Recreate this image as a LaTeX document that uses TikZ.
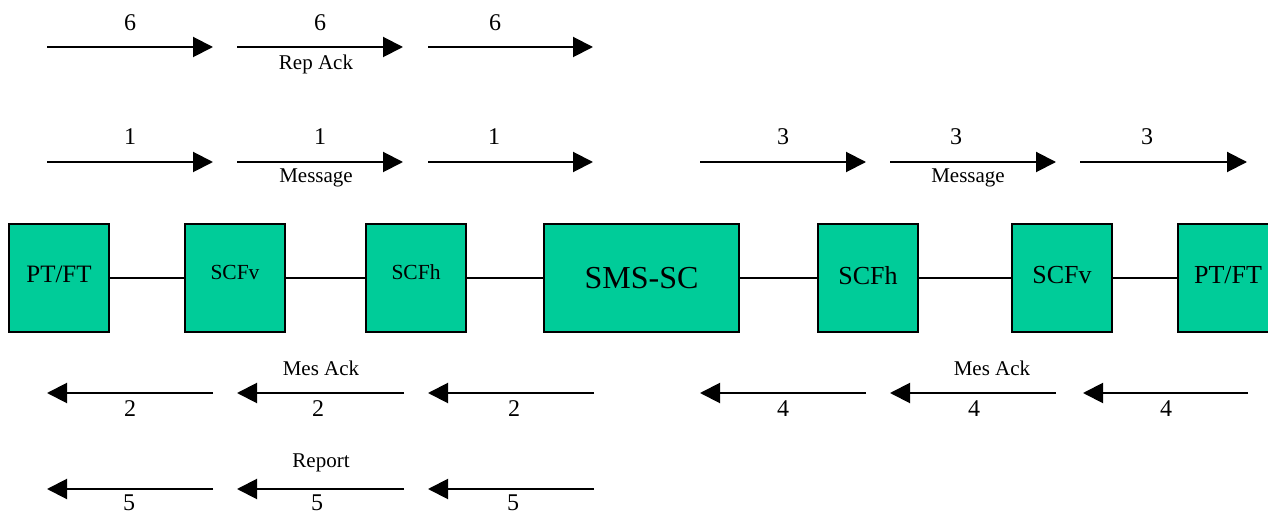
\documentclass[tikz,border=0pt]{standalone}
\usepackage{fontspec}
\setmainfont{Liberation Serif}
\usetikzlibrary{arrows.meta}
\definecolor{boxgreen}{HTML}{00CC99}
\tikzset{
  unit/.style={draw, line width=0.8pt, fill=boxgreen, minimum width=50pt,
    minimum height=54pt, inner sep=0pt},
  flow/.style={line width=1pt, -{Triangle[length=10pt,width=10pt]}},
  num/.style={font=\fontsize{12}{14}\selectfont},
  tag/.style={font=\fontsize{10.5}{12}\selectfont},
}

\begin{document}
\begin{tikzpicture}[x=0.5pt, y=-0.5pt]
\useasboundingbox (0,0) rectangle (1268,513);
% chain of units
\node[unit, font=\fontsize{12.5}{14}\selectfont, text depth=4pt] (pta) at (59,278) {PT/FT};
\node[unit, font=\fontsize{10.75}{12}\selectfont, text depth=6pt] (scfva) at (235,278) {SCFv};
\node[unit, font=\fontsize{10.75}{12}\selectfont, text depth=6pt] (scfha) at (416,278) {SCFh};
\node[unit, font=\fontsize{16}{18}\selectfont, minimum width=97.5pt] (smssc) at (641.5,278) {SMS-SC};
\node[unit, font=\fontsize{13}{15}\selectfont, text depth=3pt] (scfhb) at (868,278) {SCFh};
\node[unit, font=\fontsize{13}{15}\selectfont, text depth=3pt] (scfvb) at (1062,278) {SCFv};
\node[unit, font=\fontsize{13}{15}\selectfont, text depth=3pt] (ptb) at (1228,278) {PT/FT};
\draw[line width=1pt] (pta) -- (scfva) -- (scfha) -- (smssc) -- (scfhb) -- (scfvb) -- (ptb);

% 6: report ack
\foreach \a/\b/\x [count=\i] in {47/213/130, 237/403/320, 428/593/495} {
  \draw[flow] (\a,47) -- (\b,47);
  \node[num] (six\i) at (\x,23) {6};
}
\node[tag] (repack) at (316,64) {Rep Ack};

% 1: message to SMS-SC
\foreach \a/\b/\x [count=\i] in {47/213/130, 237/403/320, 428/593/494} {
  \draw[flow] (\a,162) -- (\b,162);
  \node[num] (one\i) at (\x,137) {1};
}
\node[tag] (msga) at (316,178) {Message};

% 3: message from SMS-SC
\foreach \a/\b/\x [count=\i] in {700/866/783, 890/1056/956, 1080/1247/1147} {
  \draw[flow] (\a,162) -- (\b,162);
  \node[num] (three\i) at (\x,137) {3};
}
\node[tag] (msgb) at (968,178) {Message};

% 2: message ack
\foreach \a/\b/\x [count=\i] in {47/213/130, 237/404/318, 428/594/514} {
  \draw[flow] (\b,393) -- (\a,393);
  \node[num] (two\i) at (\x,409) {2};
}
\node[tag] (mesacka) at (321,368) {Mes Ack};

% 4: message ack
\foreach \a/\b/\x [count=\i] in {700/866/783, 890/1056/974, 1083/1248/1166} {
  \draw[flow] (\b,393) -- (\a,393);
  \node[num] (four\i) at (\x,409) {4};
}
\node[tag] (mesackb) at (992,368) {Mes Ack};

% 5: report
\foreach \a/\b/\x [count=\i] in {47/213/129, 237/404/317, 428/594/513} {
  \draw[flow] (\b,489) -- (\a,489);
  \node[num] (five\i) at (\x,503) {5};
}
\node[tag] (report) at (321,463) {Report};
\end{tikzpicture}
\end{document}
